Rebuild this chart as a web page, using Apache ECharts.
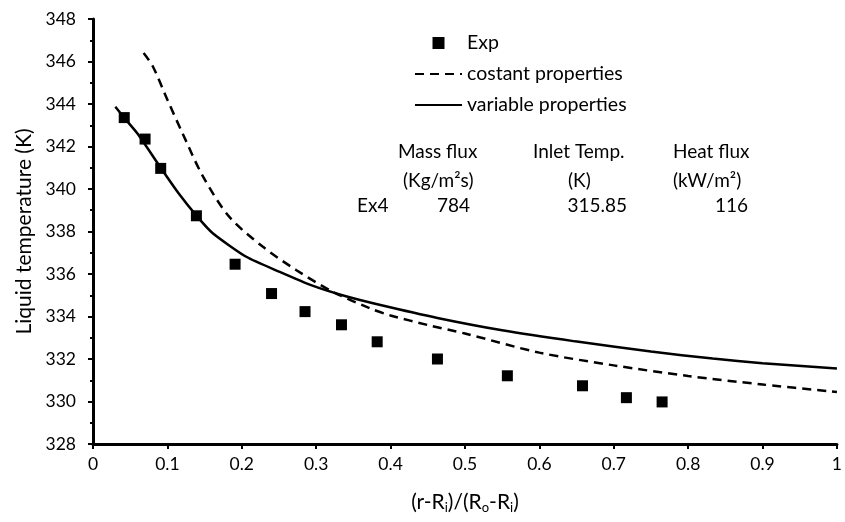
<!DOCTYPE html>
<html>
<head>
<meta charset="utf-8">
<script src="https://cdn.jsdelivr.net/npm/echarts@6/dist/echarts.min.js"></script>
<style>
    html, body { margin: 0; padding: 0; background: #fff; }
    #chart { width: 845px; height: 522px; }
</style>
</head>
<body>
<div id="chart"></div>
<script>
// experimental points
const expX = [0.042, 0.070, 0.091, 0.139, 0.191, 0.240, 0.285, 0.334, 0.382, 0.463, 0.557, 0.658, 0.717, 0.765];
const expY = [343.36, 342.35, 340.97, 338.74, 336.46, 335.08, 334.23, 333.61, 332.81, 332.0, 331.21, 330.74, 330.18, 329.98];

// constant properties model (dashed)
const constX = [0.068, 0.08, 0.1, 0.12, 0.148, 0.183, 0.228, 0.273, 0.322, 0.372, 0.4, 0.45, 0.5, 0.6, 0.7, 0.8, 0.9, 1.0];
const constY = [346.4, 345.8, 344.2, 342.65, 340.58, 338.7, 337.29, 336.19, 335.17, 334.39, 334.05, 333.6, 333.2, 332.3, 331.7, 331.2, 330.8, 330.45];

// variable properties model (solid)
const varX = [0.03, 0.042, 0.06, 0.091, 0.115, 0.139, 0.161, 0.206, 0.251, 0.295, 0.34, 0.385, 0.463, 0.55, 0.648, 0.75, 0.833, 0.9, 1.0];
const varY = [343.87, 343.35, 342.6, 341.0, 339.8, 338.75, 337.92, 336.81, 336.1, 335.45, 334.95, 334.55, 333.93, 333.35, 332.83, 332.35, 332.02, 331.8, 331.55];

const seriesNames = ['Exp', 'costant properties', 'variable properties'];

function pairs(xs, ys) {
    return xs.map((x, i) => [x, ys[i]]);
}

const font = 'Lato, "Open Sans", sans-serif';
const txt = '19px ' + font;

let chart = echarts.init(document.getElementById('chart'));
chart.setOption({
    animation: false,
    textStyle: { fontFamily: font, color: '#000' },
    grid: { left: 93, right: 8, top: 19, bottom: 78 },
    legend: {
        orient: 'vertical',
        left: 409,
        top: 28,
        itemWidth: 47,
        itemHeight: 12,
        itemGap: 11,
        symbolKeepAspect: true,
        textStyle: { fontFamily: font, fontSize: 19.5, color: '#000' },
        data: [
            { name: seriesNames[0], icon: 'path://M0,0H10V10H0Z' },
            { name: seriesNames[1], itemStyle: { opacity: 0 } },
            { name: seriesNames[2], itemStyle: { opacity: 0 } }
        ]
    },
    xAxis: {
        type: 'value',
        min: 0,
        max: 1,
        interval: 0.1,
        name: '(r-R{s|i})/(R{s|o}-R{s|i})',
        nameLocation: 'middle',
        nameGap: 46,
        nameTextStyle: {
            fontFamily: font, fontSize: 21, color: '#000',
            rich: { s: { fontFamily: font, fontSize: 13, color: '#000', padding: [11, 0, 0, 0] } }
        },
        axisLine: { lineStyle: { color: '#000', width: 3 } },
        axisTick: { show: true, length: 5, lineStyle: { color: '#000', width: 2 } },
        axisLabel: { fontFamily: font, fontSize: 17.5, color: '#000', margin: 11 },
        splitLine: { show: false }
    },
    yAxis: {
        type: 'value',
        min: 328,
        max: 348,
        interval: 2,
        name: 'Liquid temperature (K)',
        nameLocation: 'middle',
        nameGap: 58,
        nameTextStyle: { fontFamily: font, fontSize: 21, color: '#000' },
        axisLine: { show: true, lineStyle: { color: '#000', width: 3 } },
        axisTick: { show: true, length: 5, lineStyle: { color: '#000', width: 2 } },
        minorTick: { show: true, splitNumber: 2, length: 3, lineStyle: { color: '#000', width: 2 } },
        axisLabel: { fontFamily: font, fontSize: 17.5, color: '#000', margin: 17 },
        splitLine: { show: false }
    },
    graphic: [
        { type: 'text', left: 398, top: 142, style: { text: 'Mass flux', font: txt, fill: '#000' } },
        { type: 'text', left: 533, top: 142, style: { text: 'Inlet Temp.', font: txt, fill: '#000' } },
        { type: 'text', left: 673, top: 142, style: { text: 'Heat flux', font: txt, fill: '#000' } },
        { type: 'text', left: 403, top: 171, style: { text: '(Kg/m\u00b2s)', font: txt, fill: '#000' } },
        { type: 'text', left: 568, top: 171, style: { text: '(K)', font: txt, fill: '#000' } },
        { type: 'text', left: 673, top: 171, style: { text: '(kW/m\u00b2)', font: txt, fill: '#000' } },
        { type: 'text', left: 357, top: 196, style: { text: 'Ex4', font: txt, fill: '#000' } },
        { type: 'text', right: 845 - 470, top: 196, style: { text: '784', font: txt, fill: '#000' } },
        { type: 'text', right: 845 - 627, top: 196, style: { text: '315.85', font: txt, fill: '#000' } },
        { type: 'text', right: 845 - 748, top: 196, style: { text: '116', font: txt, fill: '#000' } }
    ],
    series: [
        {
            name: seriesNames[0],
            type: 'scatter',
            symbol: 'rect',
            symbolSize: 11,
            itemStyle: { color: '#000', opacity: 1 },
            data: pairs(expX, expY),
            z: 3
        },
        {
            name: seriesNames[1],
            type: 'line',
            showSymbol: false,
            symbol: 'none',
            smooth: 0.3,
            lineStyle: { color: '#000', width: 2.5, type: [9, 6] },
            itemStyle: { color: '#000' },
            data: pairs(constX, constY)
        },
        {
            name: seriesNames[2],
            type: 'line',
            showSymbol: false,
            symbol: 'none',
            smooth: 0.2,
            lineStyle: { color: '#000', width: 2.5 },
            itemStyle: { color: '#000' },
            data: pairs(varX, varY)
        }
    ]
});
</script>
</body>
</html>
